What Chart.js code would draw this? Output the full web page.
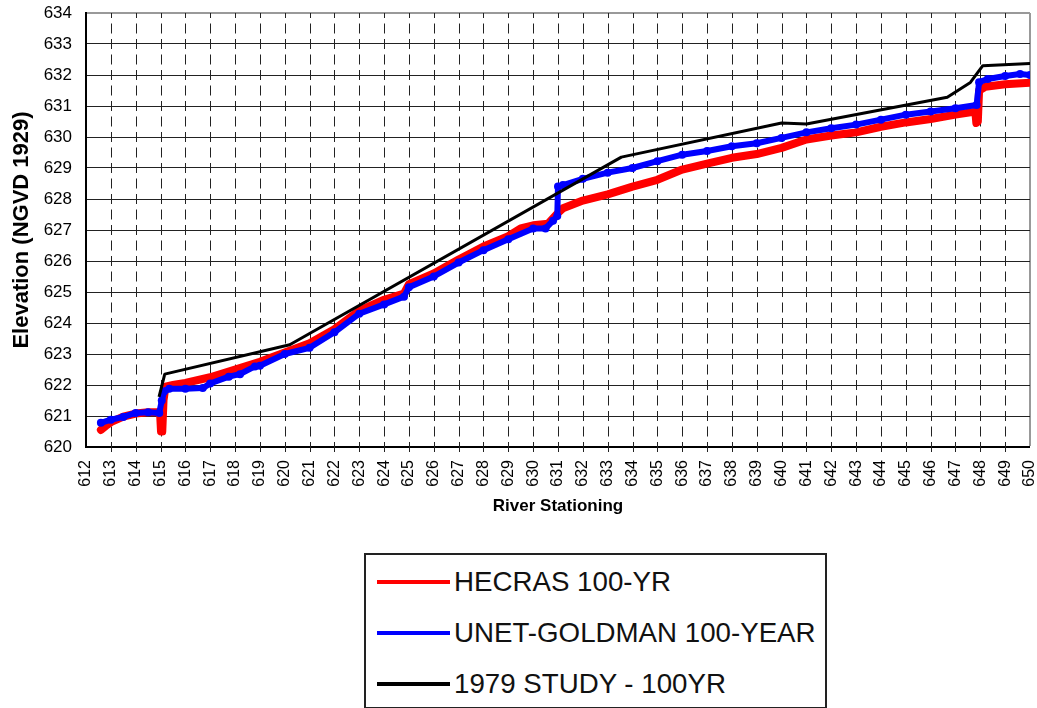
<!DOCTYPE html>
<html>
<head>
<meta charset="utf-8">
<script src="https://cdn.jsdelivr.net/npm/chart.js@4/dist/chart.umd.min.js"></script>
<style>
  html, body { margin: 0; padding: 0; background: #fff; }
  #wrap { position: relative; width: 1037px; height: 708px; overflow: hidden; }
  #legend {
    position: absolute; left: 364px; top: 553px; width: 463px; height: 156px;
    box-sizing: border-box; border: 2px solid #222; background: #fff;
    font-family: "Liberation Sans", Arial, sans-serif; font-size: 27.7px; color: #111;
  }
  .item { position: absolute; left: 0; height: 40px; width: 100%; }
  .swatch { position: absolute; left: 11px; width: 73px; height: 4px; top: 18px; }
  .label { position: absolute; left: 88px; top: 3px; line-height: 34px; white-space: nowrap; }
</style>
</head>
<body>
<div id="wrap">
  <canvas id="c" width="1037" height="708"></canvas>
  <div id="legend"></div>
</div>
<script>
// ---- data ----
const seriesNames = ["HECRAS 100-YR", "UNET-GOLDMAN 100-YEAR", "1979 STUDY - 100YR"];
const seriesColors = ["#ff0000", "#0000ff", "#000000"];

const hecrasStation = [612.6, 612.8, 613.0, 613.5, 614.0, 614.5, 614.98, 615.02, 615.07, 615.12, 615.2, 615.5, 616.0, 617.0, 618.0, 619.0, 620.0, 621.0, 622.0, 623.0, 624.0, 624.8, 625.0, 626.0, 627.0, 628.0, 629.0, 629.5, 630.0, 630.6, 631.0, 631.2, 632.0, 633.0, 634.0, 635.0, 636.0, 637.0, 638.0, 639.0, 640.0, 641.0, 642.0, 643.0, 644.0, 645.0, 646.0, 647.0, 647.8, 647.84, 647.9, 647.95, 648.2, 649.0, 650.0];
const hecrasElev    = [620.55, 620.68, 620.8, 620.98, 621.08, 621.12, 621.12, 620.5, 620.5, 621.5, 621.95, 622.0, 622.07, 622.25, 622.5, 622.75, 623.05, 623.35, 623.8, 624.4, 624.75, 624.95, 625.25, 625.6, 626.05, 626.47, 626.8, 627.05, 627.15, 627.2, 627.55, 627.7, 627.95, 628.15, 628.4, 628.62, 628.95, 629.14, 629.33, 629.45, 629.65, 629.92, 630.05, 630.15, 630.33, 630.47, 630.58, 630.72, 630.82, 630.45, 630.5, 631.5, 631.62, 631.7, 631.75];

const unetStation = [612.6, 613.0, 613.5, 614.0, 614.5, 614.95, 615.05, 615.15, 615.35, 616.0, 616.7, 617.0, 617.75, 618.2, 618.8, 619.0, 620.0, 621.0, 622.0, 623.0, 624.0, 624.8, 625.0, 626.0, 627.0, 628.0, 629.0, 630.0, 630.5, 630.8, 630.97, 631.0, 631.2, 632.0, 633.0, 634.0, 635.0, 636.0, 637.0, 638.0, 639.0, 640.0, 641.0, 642.0, 643.0, 644.0, 645.0, 646.0, 647.0, 647.85, 647.95, 648.3, 649.0, 649.6, 650.0];
const unetElev    = [620.78, 620.88, 620.97, 621.1, 621.12, 621.1, 621.5, 621.8, 621.88, 621.88, 621.9, 622.05, 622.27, 622.35, 622.6, 622.62, 623.0, 623.2, 623.7, 624.3, 624.6, 624.85, 625.15, 625.5, 625.95, 626.35, 626.7, 627.05, 627.05, 627.3, 627.45, 628.4, 628.45, 628.65, 628.85, 629.0, 629.22, 629.43, 629.55, 629.7, 629.8, 629.97, 630.15, 630.28, 630.4, 630.56, 630.72, 630.82, 630.93, 631.03, 631.77, 631.87, 631.97, 632.03, 632.0];

const studyStation = [614.94, 615.17, 620.2, 633.55, 640.0, 641.0, 646.67, 647.6, 648.1, 650.0];
const studyElev    = [621.62, 622.35, 623.3, 629.35, 630.45, 630.42, 631.28, 631.76, 632.3, 632.37];

const xMin = 612, xMax = 650, xStep = 1;
const yMin = 620, yMax = 634, yStep = 0.5;

function pts(xs, ys) { return xs.map((x, i) => ({ x: x, y: ys[i] })); }

const FONT = "'Liberation Sans', Arial, sans-serif";

// short vertical marks at each integer station on each horizontal grid line
const crossMarks = {
  id: 'crossMarks',
  beforeDatasetsDraw(chart) {
    const { ctx, chartArea, scales: { x, y } } = chart;
    ctx.save();
    ctx.strokeStyle = '#222';
    ctx.lineWidth = 1;
    ctx.beginPath();
    for (let s = xMin + xStep; s < xMax; s += xStep) {
      const px = Math.round(x.getPixelForValue(s)) + 0.5;
      for (let v = yMin; v <= yMax + 1e-9; v += yStep) {
        const py = y.getPixelForValue(v);
        ctx.moveTo(px, Math.max(chartArea.top, py - 5));
        ctx.lineTo(px, py + 5);
      }
    }
    ctx.stroke();
    ctx.restore();
  }
};

const chart = new Chart(document.getElementById('c'), {
  type: 'line',
  data: {
    datasets: [
      { label: seriesNames[0], data: pts(hecrasStation, hecrasElev), borderColor: seriesColors[0],
        backgroundColor: seriesColors[0], borderWidth: 8, pointRadius: 0, order: 3,
        borderJoinStyle: 'round', borderCapStyle: 'round' },
      { label: seriesNames[1], data: pts(unetStation, unetElev), borderColor: seriesColors[1],
        backgroundColor: seriesColors[1], borderWidth: 6, pointRadius: 4, pointBorderWidth: 0,
        pointBackgroundColor: seriesColors[1], order: 2,
        borderJoinStyle: 'round', borderCapStyle: 'round' },
      { label: seriesNames[2], data: pts(studyStation, studyElev), borderColor: seriesColors[2],
        backgroundColor: seriesColors[2], borderWidth: 3, pointRadius: 0, order: 1,
        borderJoinStyle: 'round' }
    ]
  },
  options: {
    responsive: false,
    animation: false,
    events: [],
    layout: { padding: { top: 13, right: 7, bottom: 187, left: 0 } },
    plugins: { legend: { display: false }, tooltip: { enabled: false } },
    scales: {
      x: {
        type: 'linear', min: xMin, max: xMax,
        ticks: { stepSize: xStep, maxRotation: 90, minRotation: 90, padding: 13,
                 color: '#000', font: { family: FONT, size: 16 } },
        grid: { drawTicks: false,
                color: c => (c.tick && c.tick.value === xMax) ? '#999' : 'rgba(0,0,0,0)',
                lineWidth: c => (c.tick && c.tick.value === xMax) ? 2 : 0 },
        border: { color: '#000', width: 2 },
        title: { display: true, text: 'River Stationing', color: '#000',
                 font: { family: FONT, size: 17, weight: 'bold' }, padding: { top: 4, bottom: 4 } },
        afterFit: s => { s.paddingRight = 0; s.paddingLeft = 0; s.height = 74; }
      },
      y: {
        type: 'linear', min: yMin, max: yMax,
        ticks: { stepSize: yStep, padding: 14, color: '#000', font: { family: FONT, size: 17 },
                 callback: v => Number.isInteger(v) ? String(v) : '' },
        grid: { drawTicks: false,
                color: c => (c.tick && c.tick.value === yMax) ? '#999' : '#222',
                lineWidth: c => (c.tick && c.tick.value === yMax) ? 2 : 1 },
        border: { color: '#000', width: 2 },
        title: { display: true, text: 'Elevation (NGVD 1929)', color: '#000',
                 font: { family: FONT, size: 22, weight: 'bold' }, padding: { top: 9, bottom: 4 } },
        afterFit: s => { s.width = 86; s.paddingTop = 0; s.paddingBottom = 0; }
      }
    }
  },
  plugins: [crossMarks]
});

// HTML legend built from the series arrays
const legend = document.getElementById('legend');
const rowCenters = [27, 78, 129];
seriesNames.forEach((name, i) => {
  const item = document.createElement('div');
  item.className = 'item';
  item.style.top = (rowCenters[i] - 20) + 'px';
  const sw = document.createElement('div');
  sw.className = 'swatch';
  sw.style.background = seriesColors[i];
  const lb = document.createElement('div');
  lb.className = 'label';
  lb.textContent = name;
  item.appendChild(sw); item.appendChild(lb);
  legend.appendChild(item);
});
</script>
</body>
</html>
